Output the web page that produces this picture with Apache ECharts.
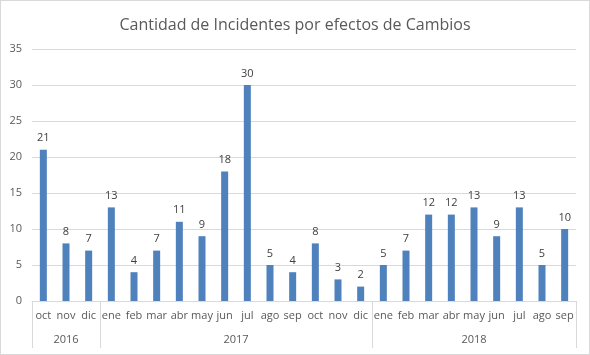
<!DOCTYPE html>
<html><head><meta charset="utf-8">
<script src="https://cdn.jsdelivr.net/npm/echarts@6/dist/echarts.min.js"></script>
<style>html,body{margin:0;padding:0;background:#fff}#c{width:590px;height:355px;box-sizing:border-box;border:1px solid #d9d9d9}</style>
</head><body><div id="c"></div>
<script>
const months = ['oct','nov','dic','ene','feb','mar','abr','may','jun','jul','ago','sep','oct','nov','dic','ene','feb','mar','abr','may','jun','jul','ago','sep'];
const values = [21,8,7,13,4,7,11,9,18,30,5,4,8,3,2,5,7,12,12,13,9,13,5,10];
const years = ['2016','2017','2018'];
const yearCounts = [3,12,9];
const yTicks = [0,5,10,15,20,25,30,35];

const bounds = [0]; yearCounts.forEach(n => bounds.push(bounds[bounds.length-1] + n));
const centers = yearCounts.map((n,i) => bounds[i] + n/2);
const chart = echarts.init(document.getElementById('c'), null, {renderer:'canvas'});
const font = 'Open Sans, Liberation Sans, sans-serif';
chart.setOption({
  animation:false,
  title:{text:'Cantidad de Incidentes por efectos de Cambios',left:'center',top:11,
    textStyle:{fontFamily:font,fontSize:16,fontWeight:'normal',color:'#595959'}},
  grid:{left:31,right:13,top:48,bottom:53},
  xAxis:[{
    type:'category',data:months,
    axisLine:{lineStyle:{color:'#d9d9d9'}},
    axisTick:{show:false},
    axisLabel:{color:'#595959',fontFamily:font,fontSize:11,margin:9,interval:0}
  },{
    type:'value',min:0,max:bounds[bounds.length-1],position:'bottom',
    axisLine:{show:false},splitLine:{show:false},
    axisTick:{show:true,length:47,lineStyle:{color:'#d9d9d9'},customValues:bounds},
    axisLabel:{color:'#595959',fontFamily:font,fontSize:11,margin:33,customValues:centers,
      formatter:function(v){const i=centers.indexOf(v);return i>=0?years[i]:'';}}
  }],
  yAxis:{type:'value',min:yTicks[0],max:yTicks[yTicks.length-1],interval:5,
    axisLine:{show:false},axisTick:{show:false},
    splitLine:{lineStyle:{color:'#d9d9d9'}},
    axisLabel:{color:'#595959',fontFamily:font,fontSize:11,margin:10}},
  series:[{type:'bar',data:values,barWidth:7,xAxisIndex:0,
    itemStyle:{color:'#4f81bd'},
    label:{show:true,position:'top',distance:6,color:'#404040',fontFamily:font,fontSize:11}}]
});
</script></body></html>
